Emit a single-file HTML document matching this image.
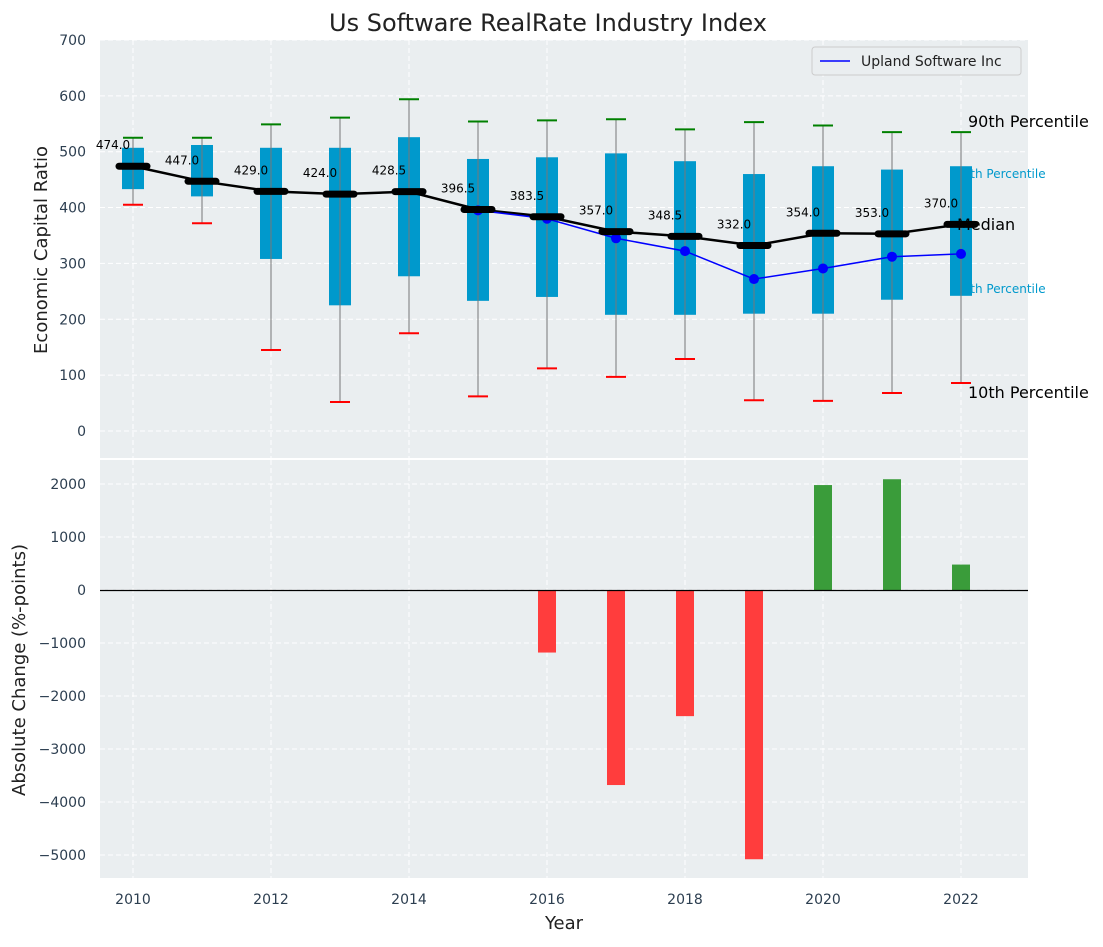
<!DOCTYPE html>
<html><head><meta charset="utf-8"><style>
body{margin:0;background:#fff;font-family:"Liberation Sans","DejaVu Sans",sans-serif;}
</style></head><body>
<svg id="chart" width="1103" height="942" xmlns="http://www.w3.org/2000/svg" font-family="DejaVu Sans, Liberation Sans, sans-serif"></svg>
<script>
const years=[2010,2011,2012,2013,2014,2015,2016,2017,2018,2019,2020,2021,2022];
const medians=[474,447,429,424,428.5,396.5,383.5,357,348.5,332,354,353,370];
const q25=[433,420,308,225,277,233,240,208,208,210,210,235,242];
const q75=[507,512,507,507,526,487,490,497,483,460,474,468,474];
const p10=[405,372,145,52,175,62,112,97,129,55,54,68,86];
const p90=[525,525,549,561,594,554,556,558,540,553,547,535,535];
const companyYears=[2015,2016,2017,2018,2019,2020,2021,2022];
const companyVals=[395,380,345,322,272,291,312,317];
const changeYears=[2016,2017,2018,2019,2020,2021,2022];
const changeVals=[-1180,-3680,-2380,-5080,1980,2090,480];
const topTicks=[0,100,200,300,400,500,600,700];
const botTicks=[-5000,-4000,-3000,-2000,-1000,0,1000,2000];
const xTicks=[2010,2012,2014,2016,2018,2020,2022];

const svg=document.getElementById('chart');
const NS='http://www.w3.org/2000/svg';
function el(tag,attrs,parent){const e=document.createElementNS(NS,tag);for(const k in attrs)e.setAttribute(k,attrs[k]);(parent||svg).appendChild(e);return e;}
const L=100,R=1028;
const x=v=>133+(v-2010)*69;
const yT=v=>431-v*0.5586;
const yB=v=>590-v*0.053;

let p1=el('rect',{x:L,y:40,width:R-L,height:418,fill:'#eaeef0'});


let p2=el('rect',{x:L,y:460,width:R-L,height:418,fill:'#eaeef0'});



topTicks.forEach(t=>{
  el('line',{x1:L,x2:R,y1:yT(t),y2:yT(t),stroke:'#fff','stroke-dasharray':'5,3','stroke-width':1});
  let tx=el('text',{x:86,y:yT(t)+5,'text-anchor':'end','font-size':14,fill:'#2c3e50'});tx.textContent=t;
  
  
});
botTicks.forEach(t=>{
  el('line',{x1:L,x2:R,y1:yB(t),y2:yB(t),stroke:'#fff','stroke-dasharray':'5,3','stroke-width':1});
  let tx=el('text',{x:86,y:yB(t)+5,'text-anchor':'end','font-size':14,fill:'#2c3e50'});tx.textContent=t<0?'\u2212'+(-t):t;
  
  
});
xTicks.forEach(t=>{
  el('line',{x1:x(t),x2:x(t),y1:40,y2:458,stroke:'#fff','stroke-dasharray':'5,3'});
  el('line',{x1:x(t),x2:x(t),y1:460,y2:878,stroke:'#fff','stroke-dasharray':'5,3'});
  let tx=el('text',{x:x(t),y:904,'text-anchor':'middle','font-size':14,fill:'#2c3e50'});tx.textContent=t;
  
  
});

// annotations first (boxes cover them)
const ann=[['90th Percentile',968,127,16,'#000'],['75th Percentile',955,178,12,'#0099cc'],['25th Percentile',955,293,12,'#0099cc'],['10th Percentile',968,398,16,'#000']];
ann.forEach(a=>{let t=el('text',{x:a[1],y:a[2],'font-size':a[3],fill:a[4]});t.textContent=a[0];
  
  });

years.forEach((yr,i)=>{
  const cx=x(yr);
  const g=el('g',{});
  
  
  el('rect',{x:cx-11,y:yT(q75[i]),width:22,height:yT(q25[i])-yT(q75[i]),fill:'#0099cc'},g);
  el('line',{x1:cx,x2:cx,y1:yT(p90[i]),y2:yT(p10[i]),stroke:'#777','stroke-width':1},g);
  el('line',{x1:cx-10,x2:cx+10,y1:yT(p90[i]),y2:yT(p90[i]),stroke:'green','stroke-width':2},g);
  el('line',{x1:cx-10,x2:cx+10,y1:yT(p10[i]),y2:yT(p10[i]),stroke:'red','stroke-width':2},g);
});
let mp=years.map((yr,i)=>x(yr)+','+yT(medians[i])).join(' ');
let ml=el('polyline',{points:mp,fill:'none',stroke:'#000','stroke-width':2.5});


let cp=companyYears.map((yr,i)=>x(yr)+','+yT(companyVals[i])).join(' ');
let cl=el('polyline',{points:cp,fill:'none',stroke:'blue','stroke-width':1.5});


companyYears.forEach((yr,i)=>{
  let c=el('circle',{cx:x(yr),cy:yT(companyVals[i]),r:5,fill:'blue'});
  
  
});
years.forEach((yr,i)=>{
  const cx=x(yr),cy=yT(medians[i]);
  let s=el('line',{x1:cx-14,x2:cx+14,y1:cy,y2:cy,stroke:'#000','stroke-width':7,'stroke-linecap':'round'});
  
  
  let t=el('text',{x:cx-20,y:cy-17,'text-anchor':'middle','font-size':12,fill:'#000'});t.textContent=medians[i].toFixed(1);
  
  
});
let mt=el('text',{x:957,y:230,'font-size':16,fill:'#000'});mt.textContent='Median';



const lg=el('g',{});


el('rect',{x:812,y:47,width:209,height:28,rx:3,fill:'#eaeef0',stroke:'#ccc'},lg);
el('line',{x1:820,x2:850,y1:61,y2:61,stroke:'blue','stroke-width':1.5},lg);
let lt=el('text',{x:861,y:66,'font-size':14,fill:'#222'},lg);lt.textContent='Upland Software Inc';

changeYears.forEach((yr,i)=>{
  const v=changeVals[i];
  let b=el('rect',{x:x(yr)-9,y:Math.min(yB(v),yB(0)),width:18,height:Math.abs(yB(v)-yB(0)),fill:v<0?'#ff3d3d':'#3a9c3a'});
  
  
});
let zl=el('line',{x1:L,x2:R,y1:yB(0)+0.5,y2:yB(0)+0.5,stroke:'#000','stroke-width':1.2});



let tt=el('text',{x:548,y:31,'text-anchor':'middle','font-size':24,fill:'#222'});tt.textContent='Us Software RealRate Industry Index';

let y1=el('text',{x:47,y:250,'text-anchor':'middle','font-size':18,fill:'#222',transform:'rotate(-90 47 250)'});y1.textContent='Economic Capital Ratio';

let y2=el('text',{x:25,y:670,'text-anchor':'middle','font-size':18,fill:'#222',transform:'rotate(-90 25 670)'});y2.textContent='Absolute Change (%-points)';

let xt=el('text',{x:564,y:929,'text-anchor':'middle','font-size':18,fill:'#222'});xt.textContent='Year';

</script>
</body></html>
